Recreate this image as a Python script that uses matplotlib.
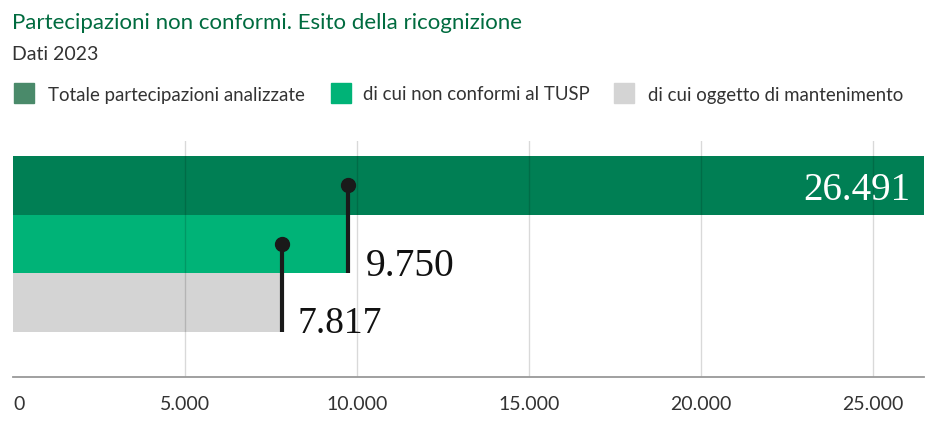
import matplotlib.pyplot as plt
from matplotlib.patches import Rectangle

# ── Dati ──────────────────────────────────────────────────────────────────────
series_names = ["Totale partecipazioni analizzate",
                "di cui non conformi al TUSP",
                "di cui oggetto di mantenimento"]
values = [26491, 9750, 7817]
value_labels = ["26.491", "9.750", "7.817"]
x_ticks = [0, 5000, 10000, 15000, 20000, 25000]
x_tick_labels = ["0", "5.000", "10.000", "15.000", "20.000", "25.000"]

# ── Stile ─────────────────────────────────────────────────────────────────────
BAR_COLORS = ["#007f54", "#00b377", "#d4d4d4"]
LEGEND_COLORS = ["#4a8a6a", "#00b377", "#d4d4d4"]
TITLE_COLOR = "#006b3f"
TEXT_COLOR = "#333333"
FONT = "Lato"

plt.rcParams["font.family"] = [FONT, "DejaVu Sans"]

fig = plt.figure(figsize=(9.39, 4.35), dpi=100)
W, H = 939, 435


def fx(px):
    return px / W


def fy(py):
    return 1 - py / H


ax = fig.add_axes([fx(13), fy(378), fx(924) - fx(13), fy(142) - fy(378)])

# barre orizzontali, una sotto l'altra
ypos = list(range(len(values)))
ax.barh(ypos, values, height=1.0, color=BAR_COLORS, zorder=1)
ax.set_xlim(0, values[0])
ax.set_ylim(3.267, -0.756)

# griglia sopra le barre
for t in x_ticks[1:]:
    ax.axvline(t, color=(0, 0, 0, 0.15), lw=1, zorder=2)

# lollipop: pallino al centro della barra sopra, linea fino al fondo della barra
for i in (1, 2):
    ax.plot([values[i], values[i]], [i - 1, i + 0.5], color="#1a1a1a",
            lw=3, zorder=3, solid_capstyle="butt")
    ax.plot(values[i], i - 1, "o", color="#1a1a1a", ms=10, zorder=4)

# etichette valori
ax.annotate(value_labels[0], (values[0], 0), xytext=(-10, -9.5),
            textcoords="offset points", ha="right", va="baseline",
            fontsize=28, color="white", family="Liberation Serif", zorder=5)
ax.annotate(value_labels[1], (values[1], 1.5), xytext=(12.5, -1.5),
            textcoords="offset points", ha="left", va="baseline",
            fontsize=28.5, color="#111111", family="Liberation Serif", zorder=5)
ax.annotate(value_labels[2], (values[2], 2.5), xytext=(11.5, 0),
            textcoords="offset points", ha="left", va="baseline",
            fontsize=27, color="#111111", family="Liberation Serif", zorder=5)

# assi
for s in ("top", "right", "left"):
    ax.spines[s].set_visible(False)
ax.spines["bottom"].set_color("#999999")
ax.spines["bottom"].set_linewidth(1.3)
ax.set_yticks([])
ax.set_xticks(x_ticks)
ax.set_xticklabels(x_tick_labels, fontsize=14, color=TEXT_COLOR)
ax.tick_params(axis="x", length=0, pad=13)
ax.get_xticklabels()[0].set_horizontalalignment("left")

# titolo e sottotitolo
fig.text(fx(12), fy(23), "Partecipazioni non conformi. Esito della ricognizione",
         fontsize=16, color=TITLE_COLOR, va="center", ha="left")
fig.text(fx(12), fy(54), "Dati 2023", fontsize=14, color=TEXT_COLOR,
         va="center", ha="left")

# legenda
legend_sw = [14, 331, 614]
legend_tx = [48, 363, 648]
for name, col, sx, tx in zip(series_names, LEGEND_COLORS, legend_sw, legend_tx):
    fig.patches.append(Rectangle((fx(sx), fy(104)), fx(20), 20 / H,
                                 transform=fig.transFigure, color=col))
    fig.text(fx(tx), fy(95), name, fontsize=13.4, color=TEXT_COLOR,
             va="center", ha="left")

fig.savefig("out.png", dpi=100)
